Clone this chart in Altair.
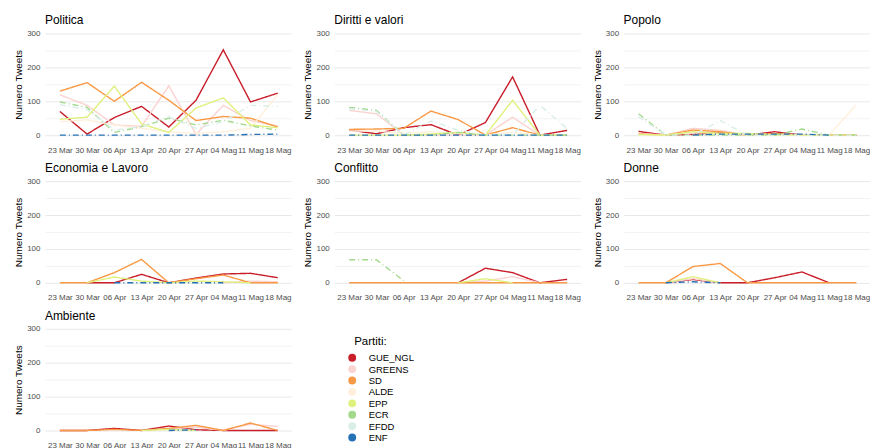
import json

import altair as alt
import pandas as pd

weeks = ["23 Mar", "30 Mar", "06 Apr", "13 Apr", "20 Apr", "27 Apr", "04 Mag", "11 Mag", "18 Mag"]
parties = ["GUE_NGL", "GREENS", "SD", "ALDE", "EPP", "ECR", "EFDD", "ENF"]
party_colors = ["#c91d2a", "#fbd3d0", "#f89a45", "#fff0dc", "#e0f07f", "#a3d98c", "#d9eee8", "#2571b5"]
party_dashes = [[1, 0], [1, 0], [1, 0], [1, 0], [1, 0], [6, 3, 1, 3], [6, 3, 1, 3], [6, 3, 1, 3]]
topics = ["Politica", "Diritti e valori", "Popolo", "Economia e Lavoro", "Conflitto", "Donne", "Ambiente"]
y_ticks = [0, 50, 100, 150, 200, 250, 300]
legend_title = "Partiti:"

N = None

politica = {
    "GUE_NGL": [70, 3, 52, 85, 24, 103, 252, 98, 124],
    "GREENS": [119, 88, 30, 26, 146, 2, 88, 43, 27],
    "SD": [130, 155, 100, 156, 103, 43, 55, 50, 24],
    "ALDE": [40, 45, 30, 20, 10, 5, 10, 20, 120],
    "EPP": [47, 53, 145, 33, 8, 80, 110, 30, 22],
    "ECR": [98, 82, 8, 25, 50, 30, 44, 27, 15],
    "EFDD": [90, 75, 15, 25, 55, 20, 40, 88, 85],
    "ENF": [0, 0, 0, 0, 0, 0, 0, 2, 3],
}
diritti = {
    "GUE_NGL": [15, 4, 22, 31, 0, 37, 172, 0, 14],
    "GREENS": [73, 63, 0, 0, 0, 0, 53, 0, 0],
    "SD": [17, 18, 20, 71, 46, 0, 22, 0, 0],
    "ALDE": [12, 12, 5, 10, 5, 0, 8, 0, 0],
    "EPP": [0, 0, 0, 3, 8, 0, 103, 0, 0],
    "ECR": [82, 73, 0, 0, 8, 0, 0, 0, 0],
    "EFDD": [78, 70, 0, 42, 15, 0, 0, 88, 20],
    "ENF": [0, 0, 0, 0, 0, 0, 0, 0, 0],
}
popolo = {
    "GUE_NGL": [11, 0, 2, 8, 0, 10, 0, 0, 0],
    "GREENS": [5, 0, 20, 14, 0, 5, 0, 0, 0],
    "SD": [3, 0, 15, 10, 0, 5, 0, 0, 0],
    "ALDE": [0, 0, 8, 5, 0, 0, 0, 0, 90],
    "EPP": [2, 0, 10, 5, 5, 0, 0, 0, 0],
    "ECR": [63, 0, 0, 0, 0, 0, 18, 0, 0],
    "EFDD": [55, 0, 0, 43, 0, 0, 0, 0, 0],
    "ENF": [N, N, 0, 3, 3, 3, 3, 0, N],
}
economia = {
    "GUE_NGL": [N, 0, 0, 25, 0, 14, 26, 28, 15],
    "GREENS": [N, N, N, N, N, N, 0, 5, 3],
    "SD": [0, 0, 30, 69, 0, 12, 23, 0, 0],
    "ALDE": [N, N, N, N, N, N, N, N, N],
    "EPP": [N, 0, 17, 5, 0, 5, 3, 0, N],
    "ECR": [N, N, N, N, N, N, N, N, N],
    "EFDD": [N, N, N, N, N, N, N, N, N],
    "ENF": [N, N, 0, 0, 0, 0, 0, N, N],
}
conflitto = {
    "GUE_NGL": [N, N, N, N, 0, 43, 30, 0, 10],
    "GREENS": [N, N, N, N, 0, 5, 18, 0, N],
    "SD": [0, 0, 0, 0, 0, 0, 0, 0, 0],
    "ALDE": [N, N, N, N, N, N, N, N, N],
    "EPP": [N, N, N, N, 0, 12, 0, N, N],
    "ECR": [68, 68, 6, N, N, N, N, N, N],
    "EFDD": [N, N, N, N, N, N, N, N, N],
    "ENF": [N, N, N, N, N, N, N, N, N],
}
donne = {
    "GUE_NGL": [N, 0, 10, 0, 0, 15, 32, 0, N],
    "GREENS": [N, 0, 12, 0, N, N, N, N, N],
    "SD": [0, 0, 48, 57, 0, 0, 0, 0, 0],
    "ALDE": [N, N, N, N, N, N, N, N, N],
    "EPP": [N, 0, 18, 0, N, N, N, N, N],
    "ECR": [N, N, N, N, N, N, N, N, N],
    "EFDD": [N, N, N, N, N, N, N, N, N],
    "ENF": [N, 0, 3, 0, N, N, N, N, N],
}
ambiente = {
    "GUE_NGL": [0, 0, 6, 0, 13, 2, 0, 0, 0],
    "GREENS": [N, N, N, N, 5, 10, 0, 18, 12],
    "SD": [0, 0, 3, 0, 6, 15, 0, 22, 0],
    "ALDE": [N, N, N, N, N, N, N, N, N],
    "EPP": [N, N, N, 0, 3, 0, N, N, N],
    "ECR": [N, N, N, N, N, N, N, N, N],
    "EFDD": [N, N, N, N, N, N, N, N, N],
    "ENF": [N, N, N, N, 0, 2, N, N, N],
}

series_by_topic = {
    "Politica": politica,
    "Diritti e valori": diritti,
    "Popolo": popolo,
    "Economia e Lavoro": economia,
    "Conflitto": conflitto,
    "Donne": donne,
    "Ambiente": ambiente,
}

rows = []
for topic in topics:
    series = series_by_topic[topic]
    for p in parties:
        for w, v in zip(weeks, series[p]):
            if v is not None:
                rows.append({"topic": topic, "party": p, "week": w, "tweets": v})
df = pd.DataFrame(rows)
legend_df = pd.DataFrame({"party": parties, "rank": list(range(len(parties)))})

FONT = "Liberation Sans"
color_scale = alt.Scale(domain=parties, range=party_colors)


def panel(topic):
    return (
        alt.Chart(df[df["topic"] == topic], title=alt.Title(topic))
        .mark_line()
        .encode(
            x=alt.X(
                "week:O",
                sort=weeks,
                scale=alt.Scale(type="point", padding=0.524, align=0.524),
                axis=alt.Axis(title=None, labelAngle=0, labelOverlap=False, labelPadding=6),
            ),
            y=alt.Y(
                "tweets:Q",
                scale=alt.Scale(domain=[-15, 315], nice=False, zero=False),
                axis=alt.Axis(
                    title="Numero Tweets",
                    values=y_ticks,
                    labelExpr="datum.value % 100 === 0 ? datum.label : ''",
                    labelOverlap=False,
                    gridColor={"condition": {"test": "datum.value % 100 === 0", "value": "#e8e8e8"}, "value": "#f3f3f3"},
                    labelPadding=5,
                    titlePadding=3,
                ),
            ),
            color=alt.Color("party:N", scale=color_scale, legend=None),
            strokeDash=alt.StrokeDash(
                "party:N",
                scale=alt.Scale(domain=parties, range=party_dashes),
                legend=None,
            ),
            strokeWidth=alt.value(1.4),
        )
        .properties(width=247, height=112)
    )


legend_panel = (
    alt.Chart(legend_df, title=alt.Title(legend_title, fontSize=11.5, dx=20, dy=25))
    .mark_point(filled=True, size=62, opacity=1)
    .encode(
        y=alt.Y(
            "rank:Q",
            scale=alt.Scale(domain=[-2.975, 7.525], reverse=True, nice=False, zero=False),
            axis=alt.Axis(
                orient="right",
                title=None,
                grid=False,
                domain=False,
                ticks=False,
                values=list(range(len(parties))),
                labelExpr=json.dumps(parties) + "[datum.value]",
                labelFontSize=9.5,
                labelColor="#000000",
                labelPadding=-2,
                labelOverlap=False,
            ),
        ),
        color=alt.Color("party:N", scale=color_scale, legend=None),
    )
    .properties(width=36, height=120)
)

chart = (
    alt.concat(
        *[panel(t) for t in topics],
        legend_panel,
        columns=3,
        spacing={"row": 36, "column": 43},
        bounds="flush",
    )
    .properties(padding={"left": 5, "top": 6, "right": 0, "bottom": 5})
    .configure(font=FONT)
    .configure_view(stroke=None)
    .configure_title(
        fontSize=12, fontWeight="normal", anchor="start", frame="group", offset=1, color="#000000", font=FONT
    )
    .configure_axis(
        labelFont=FONT,
        labelFontSize=8,
        labelColor="#4d4d4d",
        titleFont=FONT,
        titleFontSize=10,
        titleFontWeight="normal",
        titleColor="#000000",
        domain=False,
        ticks=False,
        gridColor="#ebebeb",
        gridWidth=1,
    )
)

chart.save("out.html", embed_options={"renderer": "svg", "actions": False})
